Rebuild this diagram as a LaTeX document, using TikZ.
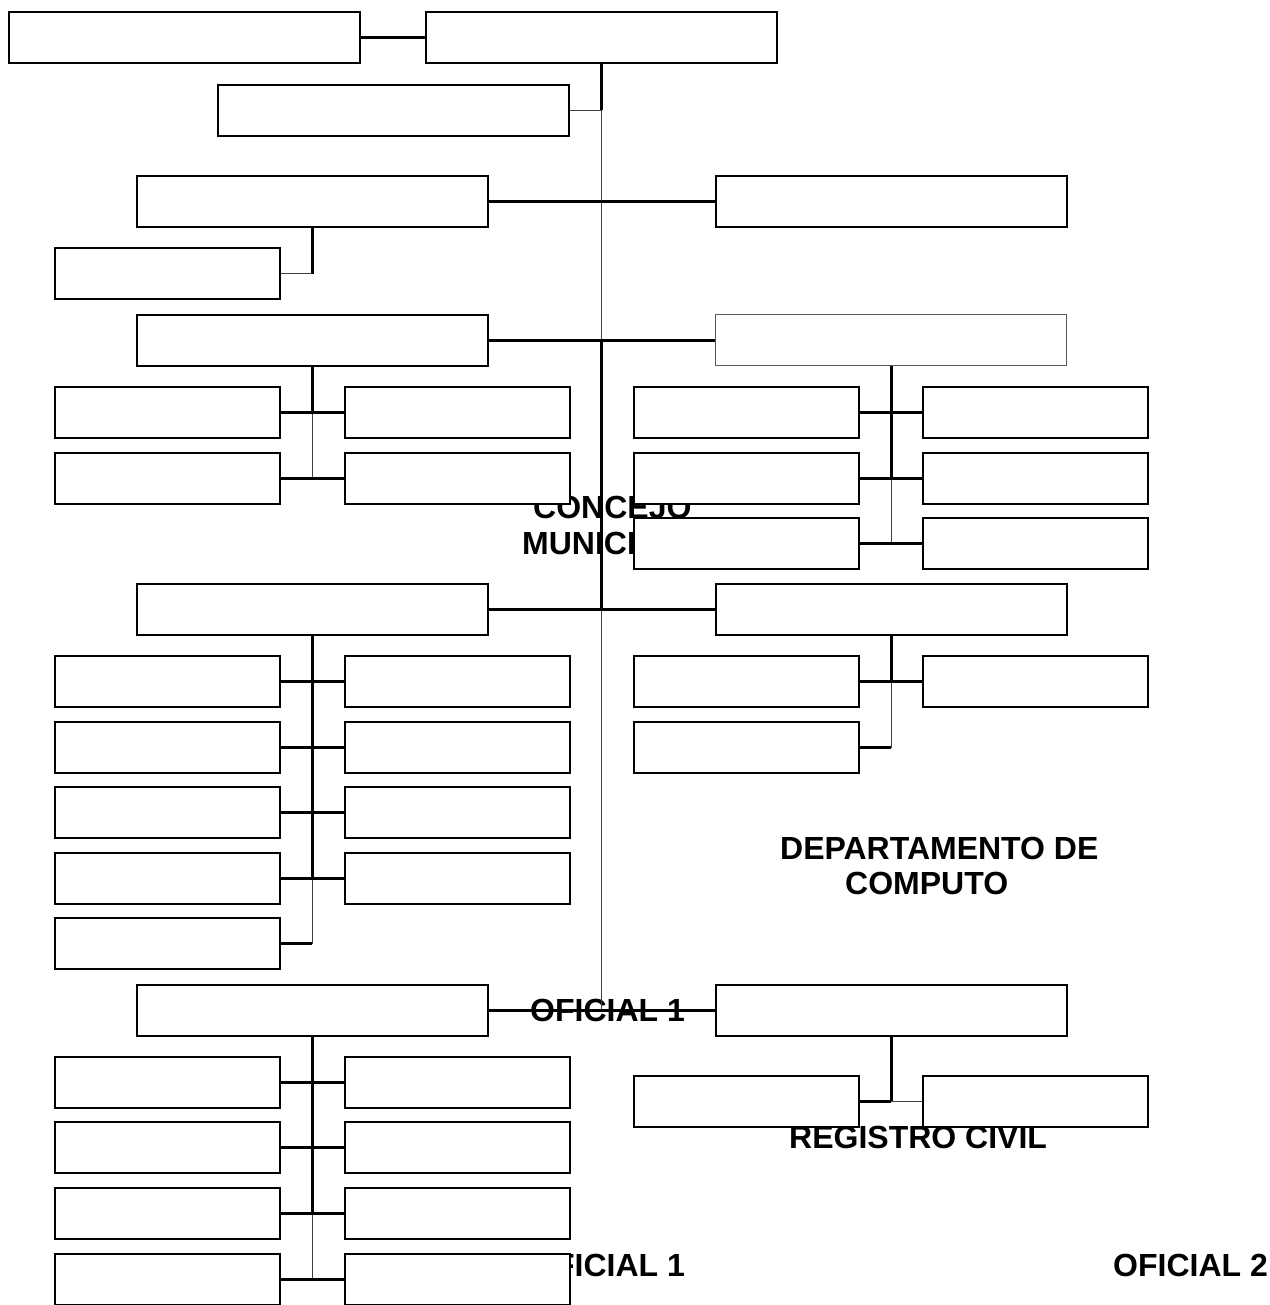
\documentclass[tikz,border=0pt]{standalone}
\usepackage{fontspec}
\setmainfont{Liberation Sans}
\pgfdeclarelayer{txt}
\pgfdeclarelayer{lines}
\pgfsetlayers{txt,lines,main}
\begin{document}
\begin{tikzpicture}[x=1pt,y=-1pt,
  bigbox/.style={draw=black,line width=2pt,fill=white,inner sep=0pt,minimum width=351pt,minimum height=51pt},
  smallbox/.style={draw=black,line width=2pt,fill=white,inner sep=0pt,minimum width=225pt,minimum height=51pt},
  thk/.style={line width=3pt},
  thn/.style={line width=1pt,black!75},
  lbl/.style={inner sep=0pt,anchor=base west,font=\fontsize{32}{36}\selectfont\bfseries}]
\useasboundingbox (0,0) rectangle (1269,1305);
% texts (lowest layer)
\begin{pgfonlayer}{txt}
\node[lbl] (t1) at (533,518) {CONCEJO};
\node[lbl] (t2) at (522,554) {MUNICIPAL};
\node[lbl] (t3) at (780,859) {DEPARTAMENTO DE};
\node[lbl] (t4) at (845,894) {COMPUTO};
\node[lbl] (t5) at (530,1021) {OFICIAL 1};
\node[lbl] (t6) at (789,1148) {REGISTRO CIVIL};
\node[lbl] (t7) at (530,1276) {OFICIAL 1};
\node[lbl] (t8) at (1113,1276) {OFICIAL 2};
\end{pgfonlayer}
% boxes
\node[bigbox] (A) at (184.5,38) {};
\node[bigbox] (B) at (601.5,38) {};
\node[bigbox] (C) at (393,110.5) {};
\node[bigbox] (D) at (312,201.5) {};
\node[bigbox] (E) at (891,201.5) {};
\node[smallbox] (F) at (167.5,274) {};
\node[bigbox] (G) at (312,340) {};
\node[bigbox,draw=black!65,line width=1.4pt] (H) at (891,340) {};
\node[bigbox] (I) at (312,609.5) {};
\node[bigbox] (J) at (891,609.5) {};
\node[bigbox] (K) at (312,1010.5) {};
\node[bigbox] (L) at (891,1010.5) {};
% G children
\node[smallbox] (g1) at (167.5,412.5) {};
\node[smallbox] (g2) at (457,412.5) {};
\node[smallbox] (g3) at (167.5,478.5) {};
\node[smallbox] (g4) at (457,478.5) {};
% H children
\node[smallbox] (h1) at (746.5,412.5) {};
\node[smallbox] (h2) at (1035.5,412.5) {};
\node[smallbox] (h3) at (746.5,478.5) {};
\node[smallbox] (h4) at (1035.5,478.5) {};
\node[smallbox] (h5) at (746.5,543.5) {};
\node[smallbox] (h6) at (1035.5,543.5) {};
% I children
\node[smallbox] (i1) at (167.5,681.5) {};
\node[smallbox] (i2) at (457,681.5) {};
\node[smallbox] (i3) at (167.5,747.5) {};
\node[smallbox] (i4) at (457,747.5) {};
\node[smallbox] (i5) at (167.5,812.5) {};
\node[smallbox] (i6) at (457,812.5) {};
\node[smallbox] (i7) at (167.5,878.5) {};
\node[smallbox] (i8) at (457,878.5) {};
\node[smallbox] (i9) at (167.5,943.5) {};
% J children
\node[smallbox] (j1) at (746.5,681.5) {};
\node[smallbox] (j2) at (1035.5,681.5) {};
\node[smallbox] (j3) at (746.5,747.5) {};
% K children
\node[smallbox] (k1) at (167.5,1082.5) {};
\node[smallbox] (k2) at (457,1082.5) {};
\node[smallbox] (k3) at (167.5,1147.5) {};
\node[smallbox] (k4) at (457,1147.5) {};
\node[smallbox] (k5) at (167.5,1213.5) {};
\node[smallbox] (k6) at (457,1213.5) {};
\node[smallbox] (k7) at (167.5,1279.5) {};
\node[smallbox] (k8) at (457,1279.5) {};
% L children
\node[smallbox] (l1) at (746.5,1101.5) {};
\node[smallbox] (l2) at (1035.5,1101.5) {};
% connectors
\begin{pgfonlayer}{lines}
\draw[thk] (A.east) -- (B.west);
\draw[thk] (B.south) -- (B.south |- C.east) coordinate (cj);
\draw[thn] (C.east) -- (cj);
\draw[thn] (cj) -- (B.south |- K.east);
\draw[thk] (D.east) -- (E.west);
\draw[thk] (D.south) -- (D.south |- F.east) coordinate (fj);
\draw[thn] (F.east) -- (fj);
\draw[thk] (G.east) -- (H.west);
\draw[thk] (B.south |- G.east) -- (B.south |- I.east);
\draw[thk] (I.east) -- (J.west);
\draw[thk] (K.east) -- (L.west);
% G
\draw[thk] (G.south) -- (G.south |- g1.east);
\draw[thn] (G.south |- g1.east) -- (G.south |- g3.east);
\draw[thk] (g1.east) -- (g2.west);
\draw[thk] (g3.east) -- (g4.west);
% H
\draw[thk] (H.south) -- (H.south |- h3.east);
\draw[thn] (H.south |- h3.east) -- (H.south |- h5.east);
\draw[thk] (h1.east) -- (h2.west);
\draw[thk] (h3.east) -- (h4.west);
\draw[thk] (h5.east) -- (h6.west);
% I
\draw[thk] (I.south) -- (I.south |- i7.east);
\draw[thn] (I.south |- i7.east) -- (I.south |- i9.east);
\draw[thk] (i1.east) -- (i2.west);
\draw[thk] (i3.east) -- (i4.west);
\draw[thk] (i5.east) -- (i6.west);
\draw[thk] (i7.east) -- (i8.west);
\draw[thk] (i9.east) -- (I.south |- i9.east);
% J
\draw[thk] (J.south) -- (J.south |- j1.east);
\draw[thn] (J.south |- j1.east) -- (J.south |- j3.east);
\draw[thk] (j1.east) -- (j2.west);
\draw[thk] (j3.east) -- (J.south |- j3.east);
% K
\draw[thk] (K.south) -- (K.south |- k5.east);
\draw[thn] (K.south |- k5.east) -- (K.south |- k7.east);
\draw[thk] (k1.east) -- (k2.west);
\draw[thk] (k3.east) -- (k4.west);
\draw[thk] (k5.east) -- (k6.west);
\draw[thk] (k7.east) -- (k8.west);
% L
\draw[thk] (L.south) -- (L.south |- l1.east) coordinate (lj);
\draw[thk] (l1.east) -- (lj);
\draw[thn] (lj) -- (l2.west);
\end{pgfonlayer}
\end{tikzpicture}
\end{document}
